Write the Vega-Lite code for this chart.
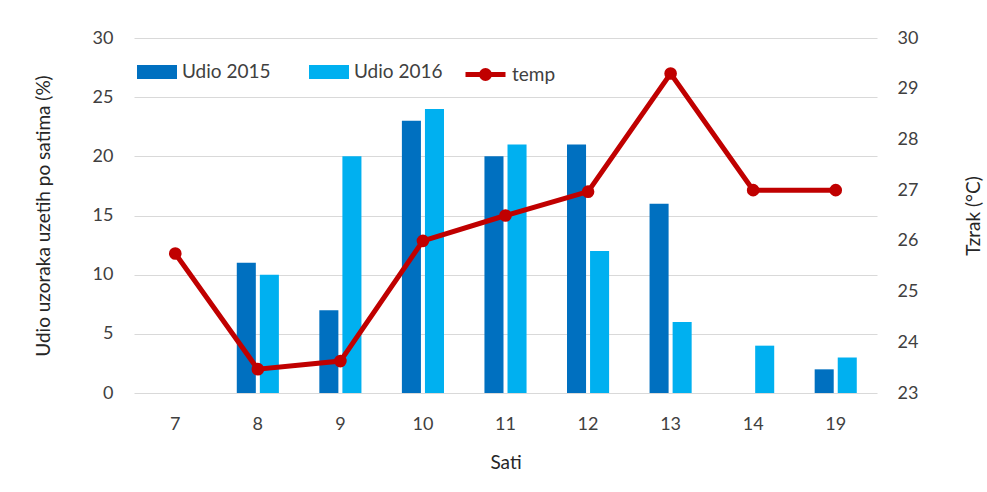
{
  "$schema": "https://vega.github.io/schema/vega-lite/v6.json",
  "width": 743,
  "height": 355,
  "autosize": {"type": "none"},
  "padding": {"left": 134, "top": 38, "right": 110, "bottom": 99},
  "background": "white",
  "config": {
    "view": {"stroke": null},
    "font": "Lato",
    "axis": {"labelFont": "Lato", "titleFont": "Lato", "labelColor": "#404040", "titleColor": "#262626", "titleFontWeight": "normal"},
    "legend": {"labelFont": "Lato"}
  },
  "datasets": {
    "udio": [
      {"sati": 8, "serija": "Udio 2015", "udio": 11},
      {"sati": 8, "serija": "Udio 2016", "udio": 10},
      {"sati": 9, "serija": "Udio 2015", "udio": 7},
      {"sati": 9, "serija": "Udio 2016", "udio": 20},
      {"sati": 10, "serija": "Udio 2015", "udio": 23},
      {"sati": 10, "serija": "Udio 2016", "udio": 24},
      {"sati": 11, "serija": "Udio 2015", "udio": 20},
      {"sati": 11, "serija": "Udio 2016", "udio": 21},
      {"sati": 12, "serija": "Udio 2015", "udio": 21},
      {"sati": 12, "serija": "Udio 2016", "udio": 12},
      {"sati": 13, "serija": "Udio 2015", "udio": 16},
      {"sati": 13, "serija": "Udio 2016", "udio": 6},
      {"sati": 14, "serija": "Udio 2016", "udio": 4},
      {"sati": 19, "serija": "Udio 2015", "udio": 2},
      {"sati": 19, "serija": "Udio 2016", "udio": 3}
    ],
    "temp": [
      {"sati": 7, "temp": 25.75},
      {"sati": 8, "temp": 23.47},
      {"sati": 9, "temp": 23.63},
      {"sati": 10, "temp": 26.0},
      {"sati": 11, "temp": 26.5},
      {"sati": 12, "temp": 26.97},
      {"sati": 13, "temp": 29.3},
      {"sati": 14, "temp": 27.0},
      {"sati": 19, "temp": 27.0}
    ]
  },
  "layer": [
    {
      "data": {"name": "udio"},
      "mark": {"type": "bar"},
      "encoding": {
        "x": {
          "field": "sati", "type": "ordinal",
          "scale": {"domain": [7, 8, 9, 10, 11, 12, 13, 14, 19], "paddingInner": 0.49, "paddingOuter": 0.245},
          "axis": {"title": "Sati", "labelAngle": 0, "labelFontSize": 18, "labelPadding": 22, "titleFontSize": 19, "titlePadding": 20, "domain": false, "ticks": false}
        },
        "xOffset": {"field": "serija", "type": "nominal", "scale": {"domain": ["Udio 2015", "Udio 2016"], "paddingInner": 0.174}},
        "y": {
          "field": "udio", "type": "quantitative",
          "scale": {"domain": [0, 30], "nice": false},
          "axis": {"title": "Udio uzoraka uzetih po satima (%)", "values": [0, 5, 10, 15, 20, 25, 30], "labelFontSize": 18, "labelPadding": 21, "titleFontSize": 19, "titlePadding": 39, "domain": false, "ticks": false, "grid": true, "gridColor": "#d9d9d9", "gridWidth": 1}
        },
        "fill": {
          "field": "serija", "type": "nominal",
          "scale": {"domain": ["Udio 2015", "Udio 2016"], "range": ["#0070C0", "#00B0F0"]},
          "legend": {"title": null, "orient": "none", "legendX": 3, "legendY": 14, "direction": "horizontal", "symbolType": "M-1,-0.35L1,-0.35L1,0.35L-1,0.35Z", "symbolSize": 1600, "symbolStrokeWidth": 0, "labelFontSize": 19, "labelColor": "#404040", "labelOffset": 5, "columnPadding": 38, "padding": 0, "labelLimit": 200}
        }
      }
    },
    {
      "data": {"name": "temp"},
      "encoding": {
        "x": {"field": "sati", "type": "ordinal"},
        "y": {
          "field": "temp", "type": "quantitative",
          "scale": {"domain": [23, 30], "nice": false},
          "axis": {"orient": "right", "title": "Tzrak (°C)", "values": [23, 24, 25, 26, 27, 28, 29, 30], "labelFontSize": 18, "labelPadding": 20, "titleFontSize": 19, "titleAngle": 270, "titlePadding": 66, "domain": false, "ticks": false, "grid": false}
        }
      },
      "layer": [
        {
          "mark": {"type": "line", "strokeWidth": 5},
          "encoding": {
            "stroke": {
              "datum": "temp",
              "scale": {"domain": ["temp"], "range": ["#C00000"]},
              "legend": {"title": null, "orient": "none", "legendX": 329, "legendY": 14, "symbolType": "M-1,0L1,0M0.2,0A0.2,0.2 0 1,1 -0.2,0A0.2,0.2 0 1,1 0.2,0Z", "symbolSize": 1600, "symbolStrokeWidth": 5, "symbolFillColor": "#C00000", "labelFontSize": 19, "labelColor": "#404040", "labelOffset": 4, "padding": 0}
            }
          }
        },
        {
          "mark": {"type": "circle", "size": 160, "color": "#C00000", "opacity": 1},
          "encoding": {}
        }
      ]
    }
  ],
  "resolve": {"scale": {"y": "independent"}}
}
